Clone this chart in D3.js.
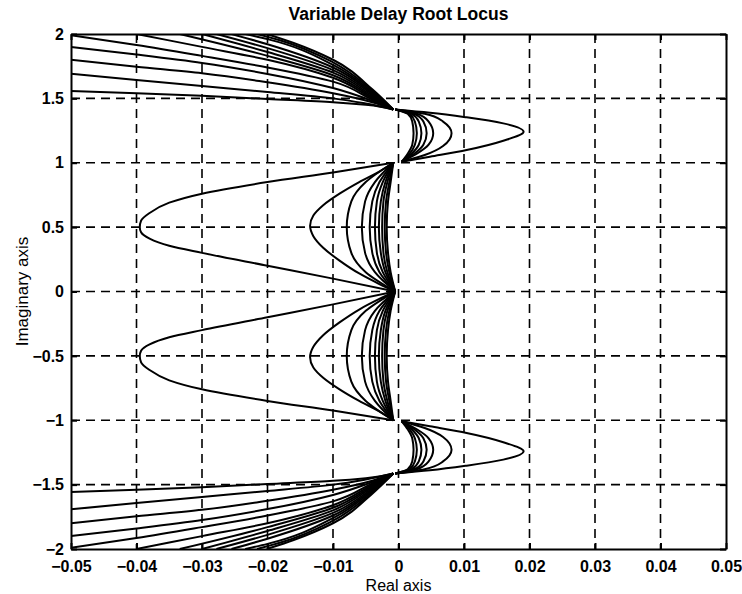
<!DOCTYPE html>
<html>
<head>
<meta charset="utf-8">
<script src="https://cdn.jsdelivr.net/npm/d3@7"></script>
<style>
  body { margin: 0; background: #fff; }
  text { font-family: "Liberation Sans", Arial, sans-serif; fill: #000; }
</style>
</head>
<body>
<div id="chart"></div>
<script>
// axis ticks
var xTicks = [-0.05, -0.04, -0.03, -0.02, -0.01, 0, 0.01, 0.02, 0.03, 0.04, 0.05];
var yTicks = [-2, -1.5, -1, -0.5, 0, 0.5, 1, 1.5, 2];

// branches in the upper half plane, [re, im], ordered by rising im;
// the lower half is drawn as their conjugate
var leftLobes = [
  [[-0.0005,0],[-0.01,0.10],[-0.02,0.20],[-0.03,0.30],[-0.035,0.355],[-0.038,0.41],[-0.0393,0.46],[-0.0395,0.5],[-0.0393,0.55],[-0.038,0.61],[-0.035,0.69],[-0.03,0.76],[-0.02,0.85],[-0.01,0.925],[-0.0008,1]],
  [[-0.0005,0],[-0.003,0.06],[-0.006,0.14],[-0.009,0.24],[-0.0115,0.34],[-0.013,0.43],[-0.0135,0.51],[-0.013,0.59],[-0.0115,0.67],[-0.009,0.76],[-0.006,0.85],[-0.003,0.93],[-0.0008,1]],
  [[-0.0005,0],[-0.005,0.15],[-0.0072,0.3],[-0.0079,0.5],[-0.0072,0.7],[-0.005,0.85],[-0.0008,1]],
  [[-0.0005,0],[-0.0036,0.15],[-0.0051,0.3],[-0.0056,0.5],[-0.0051,0.7],[-0.0036,0.85],[-0.0008,1]],
  [[-0.0005,0],[-0.0029,0.15],[-0.0040,0.3],[-0.0044,0.5],[-0.0040,0.7],[-0.0029,0.85],[-0.0008,1]],
  [[-0.0005,0],[-0.0024,0.15],[-0.0033,0.3],[-0.0036,0.5],[-0.0033,0.7],[-0.0024,0.85],[-0.0008,1]],
  [[-0.0005,0],[-0.0020,0.15],[-0.0027,0.3],[-0.0030,0.5],[-0.0027,0.7],[-0.0020,0.85],[-0.0008,1]],
  [[-0.0005,0],[-0.0017,0.15],[-0.0023,0.3],[-0.0025,0.5],[-0.0023,0.7],[-0.0017,0.85],[-0.0008,1]],
  [[-0.0005,0],[-0.0014,0.15],[-0.0019,0.3],[-0.0021,0.5],[-0.0019,0.7],[-0.0014,0.85],[-0.0008,1]],
  [[-0.0005,0],[-0.0012,0.15],[-0.0016,0.3],[-0.0018,0.5],[-0.0016,0.7],[-0.0012,0.85],[-0.0008,1]]
];

var rightLobes = [
  [[0.0005,1.008],[0.0048,1.047],[0.0104,1.099],[0.016,1.171],[0.0191,1.241],[0.016,1.306],[0.0104,1.353],[0.0048,1.389],[-0.0005,1.414]],
  [[0.0005,1.008],[0.004,1.06],[0.0068,1.13],[0.0081,1.23],[0.0068,1.32],[0.004,1.38],[-0.0005,1.414]],
  [[0.0005,1.008],[0.0028,1.07],[0.0046,1.14],[0.0053,1.23],[0.0046,1.32],[0.0028,1.38],[-0.0005,1.414]],
  [[0.0005,1.008],[0.0024,1.07],[0.0038,1.14],[0.0043,1.23],[0.0038,1.32],[0.0024,1.38],[-0.0005,1.414]],
  [[0.0005,1.008],[0.0020,1.07],[0.0031,1.14],[0.0035,1.23],[0.0031,1.32],[0.0020,1.38],[-0.0005,1.414]],
  [[0.0005,1.008],[0.0017,1.07],[0.0025,1.14],[0.0028,1.23],[0.0025,1.32],[0.0017,1.38],[-0.0005,1.414]],
  [[0.0005,1.008],[0.0014,1.07],[0.0021,1.14],[0.0023,1.23],[0.0021,1.32],[0.0014,1.38],[-0.0005,1.414]]
];

var fanLines = [
  [[-0.0008,1.414],[-0.005,1.45],[-0.01,1.47],[-0.02,1.495],[-0.03,1.52],[-0.04,1.54],[-0.05,1.557]],
  [[-0.0008,1.414],[-0.005,1.46],[-0.01,1.50],[-0.02,1.55],[-0.03,1.596],[-0.04,1.643],[-0.05,1.692]],
  [[-0.0008,1.414],[-0.004,1.47],[-0.01,1.54],[-0.02,1.625],[-0.03,1.695],[-0.04,1.746],[-0.05,1.80]],
  [[-0.0008,1.414],[-0.004,1.48],[-0.01,1.58],[-0.02,1.69],[-0.03,1.775],[-0.04,1.84],[-0.05,1.90]],
  [[-0.0008,1.414],[-0.004,1.49],[-0.01,1.63],[-0.02,1.74],[-0.03,1.83],[-0.04,1.915],[-0.05,1.99]],
  [[-0.0008,1.414],[-0.004,1.50],[-0.01,1.66],[-0.02,1.80],[-0.03,1.90],[-0.04,2]],
  [[-0.0008,1.414],[-0.004,1.51],[-0.01,1.68],[-0.02,1.83],[-0.0334,2]],
  [[-0.0008,1.414],[-0.004,1.52],[-0.01,1.70],[-0.02,1.86],[-0.030,2]],
  [[-0.0008,1.414],[-0.004,1.53],[-0.01,1.72],[-0.02,1.89],[-0.0278,2]],
  [[-0.0008,1.414],[-0.004,1.54],[-0.01,1.74],[-0.02,1.92],[-0.0255,2]],
  [[-0.0008,1.414],[-0.004,1.55],[-0.01,1.76],[-0.02,1.96],[-0.0234,2]],
  [[-0.0008,1.414],[-0.004,1.56],[-0.01,1.78],[-0.018,1.95],[-0.0216,2]],
  [[-0.0008,1.414],[-0.004,1.57],[-0.01,1.80],[-0.016,1.93],[-0.0201,2]]
];

var margin = {top: 34, right: 16, bottom: 45, left: 71},
    width = 742 - margin.left - margin.right,
    height = 594 - margin.top - margin.bottom;

var svg = d3.select("#chart")
  .append("svg")
  .attr("width", 742)
  .attr("height", 594)
  .append("g")
  .attr("transform", "translate(" + margin.left + "," + margin.top + ")");

var x = d3.scaleLinear().domain([-0.05, 0.05]).range([0, width]);
var y = d3.scaleLinear().domain([-2, 2]).range([height, 0]);

svg.append("clipPath").attr("id", "plotclip")
  .append("rect").attr("width", width).attr("height", height);

// dashed grid
svg.append("g").selectAll("line.gx")
  .data(xTicks.slice(1, -1))
  .enter().append("line")
    .attr("x1", function(d) { return x(d); })
    .attr("x2", function(d) { return x(d); })
    .attr("y1", 0).attr("y2", height)
    .attr("stroke", "#000").attr("stroke-width", 1.6)
    .attr("stroke-dasharray", "9,6");

svg.append("g").selectAll("line.gy")
  .data(yTicks.slice(1, -1))
  .enter().append("line")
    .attr("y1", function(d) { return y(d); })
    .attr("y2", function(d) { return y(d); })
    .attr("x1", 0).attr("x2", width)
    .attr("stroke", "#000").attr("stroke-width", 1.6)
    .attr("stroke-dasharray", "9,6");

// locus branches, every one rises monotonically in im
var line = d3.line()
  .x(function(d) { return x(d[0]); })
  .y(function(d) { return y(d[1]); })
  .curve(d3.curveMonotoneY);

var branches = leftLobes.concat(rightLobes, fanLines);
var plot = svg.append("g").attr("clip-path", "url(#plotclip)");
[1, -1].forEach(function(s) {
  plot.append("g").selectAll("path")
    .data(branches)
    .enter().append("path")
      .attr("d", function(b) {
        var pts = b.map(function(p) { return [p[0], s * p[1]]; });
        if (s < 0) pts.reverse();
        return line(pts);
      })
      .attr("fill", "none")
      .attr("stroke", "#000")
      .attr("stroke-width", 2);
});

// axes box with inward ticks
var fmt = function(d) { return d === 0 ? "0" : d3.format("")(d).replace("-", "\u2212"); };

svg.append("g").attr("class", "axis")
  .attr("transform", "translate(0," + height + ")")
  .call(d3.axisBottom(x).tickValues(xTicks).tickSizeInner(-6).tickSizeOuter(0).tickPadding(12).tickFormat(fmt));
svg.append("g").attr("class", "axis")
  .call(d3.axisTop(x).tickValues(xTicks).tickSizeInner(-6).tickSizeOuter(0).tickFormat(""));
svg.append("g").attr("class", "axis")
  .call(d3.axisLeft(y).tickValues(yTicks).tickSizeInner(-6).tickSizeOuter(0).tickPadding(7).tickFormat(fmt));
svg.append("g").attr("class", "axis")
  .attr("transform", "translate(" + width + ",0)")
  .call(d3.axisRight(y).tickValues(yTicks).tickSizeInner(-6).tickSizeOuter(0).tickFormat(""));

svg.selectAll(".axis path, .axis line").attr("stroke", "#000").attr("stroke-width", 2);
svg.selectAll(".axis text")
  .style("font-family", "Liberation Sans, Arial, sans-serif")
  .style("font-size", "16px")
  .style("font-weight", "bold");

svg.append("text")
  .attr("x", width / 2).attr("y", -14)
  .attr("text-anchor", "middle")
  .style("font-size", "17.5px").style("font-weight", "bold")
  .text("Variable Delay Root Locus");

svg.append("text")
  .attr("x", width / 2).attr("y", height + 42)
  .attr("text-anchor", "middle")
  .style("font-size", "16px")
  .text("Real axis");

svg.append("text")
  .attr("transform", "translate(-43," + (height / 2) + ") rotate(-90)")
  .attr("text-anchor", "middle")
  .style("font-size", "17px")
  .text("Imaginary axis");
</script>
</body>
</html>
